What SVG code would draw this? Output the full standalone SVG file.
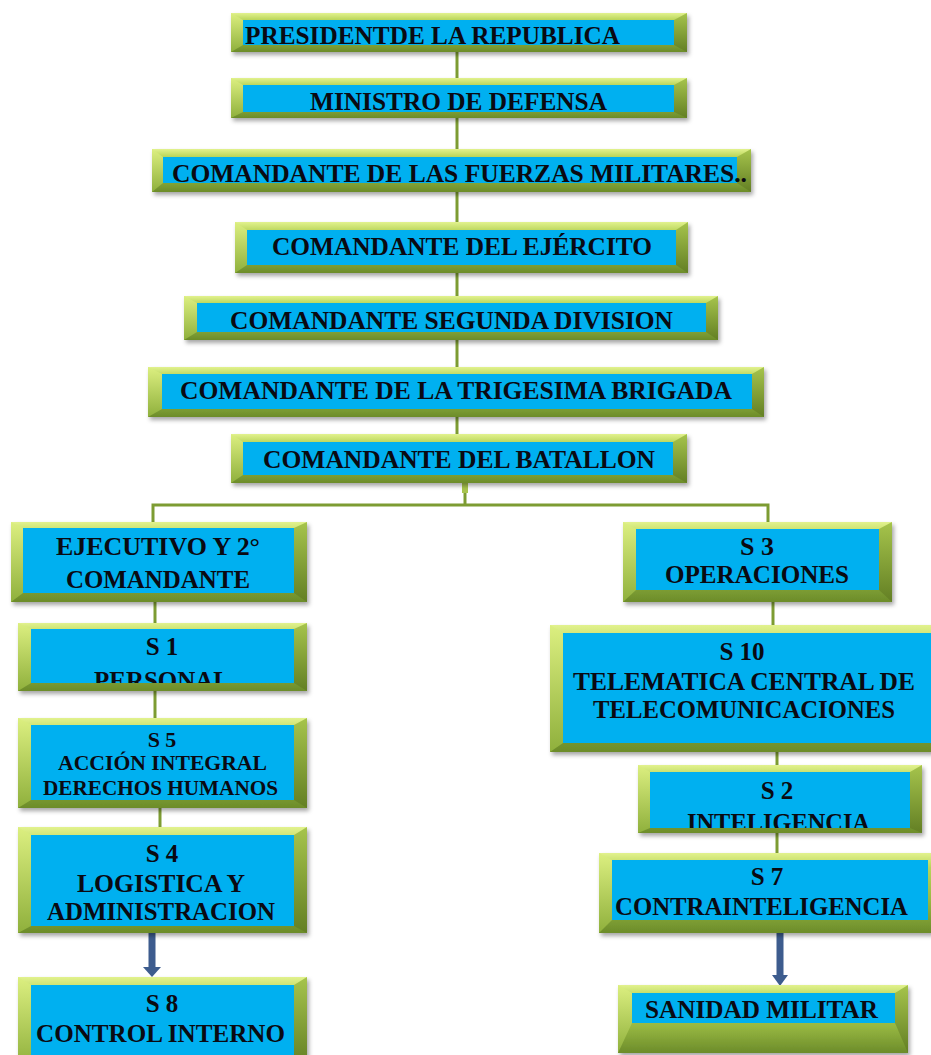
<svg xmlns="http://www.w3.org/2000/svg" width="931" height="1055" viewBox="0 0 931 1055">
<defs>
<linearGradient id="gv" x1="0" y1="0" x2="0" y2="1">
<stop offset="0" stop-color="#e2f28e"/>
<stop offset="0.18" stop-color="#b9d55a"/>
<stop offset="0.6" stop-color="#98b842"/>
<stop offset="1" stop-color="#6c8c2a"/>
</linearGradient>
<linearGradient id="gl" x1="0" y1="0" x2="0" y2="1">
<stop offset="0" stop-color="#dcef80"/>
<stop offset="1" stop-color="#8fb03c"/>
</linearGradient>
<linearGradient id="gr" x1="0" y1="0" x2="0" y2="1">
<stop offset="0" stop-color="#a6c44c"/>
<stop offset="1" stop-color="#637f24"/>
</linearGradient>
<filter id="sh" x="-5%" y="-20%" width="110%" height="150%">
<feDropShadow dx="2" dy="3" stdDeviation="2" flood-color="#000" flood-opacity="0.35"/>
</filter>
<clipPath id="c10"><rect x="31" y="629" width="263" height="54"/></clipPath>
<clipPath id="c15"><rect x="650" y="772" width="260" height="56"/></clipPath>
</defs>
<style>
.ob{fill:url(#gv);filter:url(#sh)}
.bl{fill:url(#gl)}
.br{fill:url(#gr)}
.ib{fill:#00b0f0}
.t{font-family:"Liberation Serif","Times New Roman",serif;font-weight:bold;font-size:26px;fill:#0a0a12}
.s{font-size:25px}
.v{font-size:22px}
.m{text-anchor:middle}
.cn{stroke:#7d9c32;stroke-width:3;fill:none}
.ar{fill:#3d5c8e}
</style>

<g id="connectors">
<line class="cn" x1="457" y1="52" x2="457" y2="78"/>
<line class="cn" x1="457" y1="118" x2="457" y2="149"/>
<line class="cn" x1="457" y1="192" x2="457" y2="222"/>
<line class="cn" x1="457" y1="273" x2="457" y2="296"/>
<line class="cn" x1="457" y1="340" x2="457" y2="367"/>
<line class="cn" x1="457" y1="417" x2="457" y2="434"/>
<line class="cn" x1="465" y1="483" x2="465" y2="505"/>
<rect x="462" y="474" width="6" height="19" fill="#a9c54e"/>
<polyline class="cn" points="153,522 153,505 768,505 768,522"/>
<line class="cn" x1="155" y1="602" x2="155" y2="623"/>
<line class="cn" x1="155" y1="691" x2="155" y2="718"/>
<line class="cn" x1="160" y1="808" x2="160" y2="827"/>
<line class="cn" x1="773" y1="602" x2="773" y2="625"/>
<line class="cn" x1="777" y1="752" x2="777" y2="765"/>
<line class="cn" x1="777" y1="833" x2="777" y2="853"/>
<rect class="ar" x="148.5" y="933" width="7" height="35"/>
<polygon class="ar" points="143,967 161,967 152,977"/>
<rect class="ar" x="776.5" y="933" width="7" height="43"/>
<polygon class="ar" points="772,975 788,975 780,986"/>
</g>

<g id="n1">
<rect class="ob" x="231" y="13" width="456" height="39"/>
<path class="bl" d="M231 13L243 20L243 45L231 52Z"/>
<path class="br" d="M687 13L674 20L674 45L687 52Z"/>
<rect class="ib" x="243" y="20" width="431" height="25"/>
<text class="t" x="245" y="44" textLength="375" lengthAdjust="spacingAndGlyphs">PRESIDENTDE  LA REPUBLICA</text>
</g>

<g id="n2">
<rect class="ob" x="231" y="78" width="456" height="40"/>
<path class="bl" d="M231 78L243 85L243 112L231 118Z"/>
<path class="br" d="M687 78L674 85L674 112L687 118Z"/>
<rect class="ib" x="243" y="85" width="431" height="27"/>
<text class="t" x="310" y="110" textLength="297" lengthAdjust="spacingAndGlyphs">MINISTRO DE DEFENSA</text>
</g>

<g id="n3">
<rect class="ob" x="152" y="149" width="599" height="43"/>
<path class="bl" d="M152 149L163 157L163 183L152 192Z"/>
<path class="br" d="M751 149L737 157L737 183L751 192Z"/>
<rect class="ib" x="163" y="157" width="574" height="26"/>
<text class="t" x="172" y="182" textLength="575" lengthAdjust="spacingAndGlyphs">COMANDANTE DE LAS FUERZAS MILITARES..</text>
</g>

<g id="n4">
<rect class="ob" x="235" y="222" width="453" height="51"/>
<path class="bl" d="M235 222L247 230L247 265L235 273Z"/>
<path class="br" d="M688 222L676 230L676 265L688 273Z"/>
<rect class="ib" x="247" y="230" width="429" height="35"/>
<text class="t" x="272" y="255" textLength="380" lengthAdjust="spacingAndGlyphs">COMANDANTE DEL EJÉRCITO</text>
</g>

<g id="n5">
<rect class="ob" x="184" y="296" width="534" height="44"/>
<path class="bl" d="M184 296L197 303L197 332L184 340Z"/>
<path class="br" d="M718 296L706 303L706 332L718 340Z"/>
<rect class="ib" x="197" y="303" width="509" height="29"/>
<text class="t" x="230" y="329" textLength="443" lengthAdjust="spacingAndGlyphs">COMANDANTE SEGUNDA DIVISION</text>
</g>

<g id="n6">
<rect class="ob" x="148" y="367" width="616" height="50"/>
<path class="bl" d="M148 367L162 374L162 409L148 417Z"/>
<path class="br" d="M764 367L752 374L752 409L764 417Z"/>
<rect class="ib" x="162" y="374" width="590" height="35"/>
<text class="t" x="180" y="399" textLength="552" lengthAdjust="spacingAndGlyphs">COMANDANTE DE LA TRIGESIMA BRIGADA</text>
</g>

<g id="n7">
<rect class="ob" x="231" y="434" width="456" height="49"/>
<path class="bl" d="M231 434L243 442L243 475L231 483Z"/>
<path class="br" d="M687 434L673 442L673 475L687 483Z"/>
<rect class="ib" x="243" y="442" width="430" height="33"/>
<text class="t" x="263" y="468" textLength="392" lengthAdjust="spacingAndGlyphs">COMANDANTE DEL BATALLON</text>
</g>

<g id="n8">
<rect class="ob" x="11" y="522" width="296" height="80"/>
<path class="bl" d="M11 522L23 528L23 593L11 602Z"/>
<path class="br" d="M307 522L294 528L294 593L307 602Z"/>
<rect class="ib" x="23" y="528" width="271" height="65"/>
<text class="t" x="56" y="555" textLength="204" lengthAdjust="spacingAndGlyphs">EJECUTIVO Y 2°</text>
<text class="t" x="66" y="588" textLength="184" lengthAdjust="spacingAndGlyphs">COMANDANTE</text>
</g>

<g id="n9">
<rect class="ob" x="623" y="522" width="269" height="80"/>
<path class="bl" d="M623 522L636 529L636 590L623 602Z"/>
<path class="br" d="M892 522L879 529L879 590L892 602Z"/>
<rect class="ib" x="636" y="529" width="243" height="61"/>
<text class="t m" x="757" y="555" textLength="34" lengthAdjust="spacingAndGlyphs">S 3</text>
<text class="t" x="665" y="583" textLength="184" lengthAdjust="spacingAndGlyphs">OPERACIONES</text>
</g>

<g id="n10">
<rect class="ob" x="18" y="623" width="289" height="68"/>
<path class="bl" d="M18 623L31 629L31 683L18 691Z"/>
<path class="br" d="M307 623L294 629L294 683L307 691Z"/>
<rect class="ib" x="31" y="629" width="263" height="54"/>
<g clip-path="url(#c10)">
<text class="t s m" x="162" y="655">S 1</text>
<text class="t s" x="94" y="689" textLength="136" lengthAdjust="spacingAndGlyphs">PERSONAL</text>
</g>
</g>

<g id="n11">
<rect class="ob" x="18" y="718" width="289" height="90"/>
<path class="bl" d="M18 718L31 725L31 800L18 808Z"/>
<path class="br" d="M307 718L294 725L294 800L307 808Z"/>
<rect class="ib" x="31" y="725" width="263" height="75"/>
<text class="t v m" x="162" y="747">S 5</text>
<text class="t v" x="58" y="770" textLength="209" lengthAdjust="spacingAndGlyphs">ACCIÓN INTEGRAL</text>
<text class="t v" x="43" y="795" textLength="235" lengthAdjust="spacingAndGlyphs">DERECHOS HUMANOS</text>
</g>

<g id="n12">
<rect class="ob" x="18" y="827" width="289" height="106"/>
<path class="bl" d="M18 827L31 835L31 926L18 933Z"/>
<path class="br" d="M307 827L294 835L294 926L307 933Z"/>
<rect class="ib" x="31" y="835" width="263" height="91"/>
<text class="t s m" x="162" y="862">S 4</text>
<text class="t s" x="77" y="892" textLength="168" lengthAdjust="spacingAndGlyphs">LOGISTICA Y</text>
<text class="t s" x="47" y="920" textLength="228" lengthAdjust="spacingAndGlyphs">ADMINISTRACION</text>
</g>

<g id="n13">
<rect class="ob" x="18" y="977" width="289" height="90"/>
<path class="bl" d="M18 977L31 985L31 1067L18 1067Z"/>
<path class="br" d="M307 977L294 985L294 1067L307 1067Z"/>
<rect class="ib" x="31" y="985" width="263" height="80"/>
<text class="t s m" x="162" y="1012">S 8</text>
<text class="t s" x="36" y="1042" textLength="249" lengthAdjust="spacingAndGlyphs">CONTROL INTERNO</text>
</g>

<g id="n14">
<rect class="ob" x="550" y="625" width="395" height="127"/>
<path class="bl" d="M550 625L563 633L563 743L550 752Z"/>
<rect class="ib" x="563" y="633" width="369" height="110"/>
<text class="t s m" x="742" y="660">S 10</text>
<text class="t s" x="573" y="690" textLength="342" lengthAdjust="spacingAndGlyphs">TELEMATICA  CENTRAL DE</text>
<text class="t s" x="593" y="718" textLength="302" lengthAdjust="spacingAndGlyphs">TELECOMUNICACIONES</text>
</g>

<g id="n15">
<rect class="ob" x="638" y="765" width="284" height="68"/>
<path class="bl" d="M638 765L650 772L650 828L638 833Z"/>
<path class="br" d="M922 765L910 772L910 828L922 833Z"/>
<rect class="ib" x="650" y="772" width="260" height="56"/>
<g clip-path="url(#c15)">
<text class="t s m" x="777" y="799">S 2</text>
<text class="t s" x="687" y="831" textLength="183" lengthAdjust="spacingAndGlyphs">INTELIGENCIA</text>
</g>
</g>

<g id="n16">
<rect class="ob" x="599" y="853" width="345" height="80"/>
<path class="bl" d="M599 853L612 860L612 920L599 933Z"/>
<rect class="ib" x="612" y="860" width="316" height="60"/>
<text class="t s m" x="767" y="885">S 7</text>
<text class="t s" x="615" y="915" textLength="293" lengthAdjust="spacingAndGlyphs">CONTRAINTELIGENCIA</text>
</g>

<g id="n17">
<rect class="ob" x="618" y="985" width="290" height="68"/>
<path class="bl" d="M618 985L632 993L632 1023L618 1053Z"/>
<path class="br" d="M908 985L895 993L895 1023L908 1053Z"/>
<rect class="ib" x="632" y="993" width="263" height="30"/>
<text class="t s" x="645" y="1018" textLength="233" lengthAdjust="spacingAndGlyphs">SANIDAD MILITAR</text>
</g>
</svg>
